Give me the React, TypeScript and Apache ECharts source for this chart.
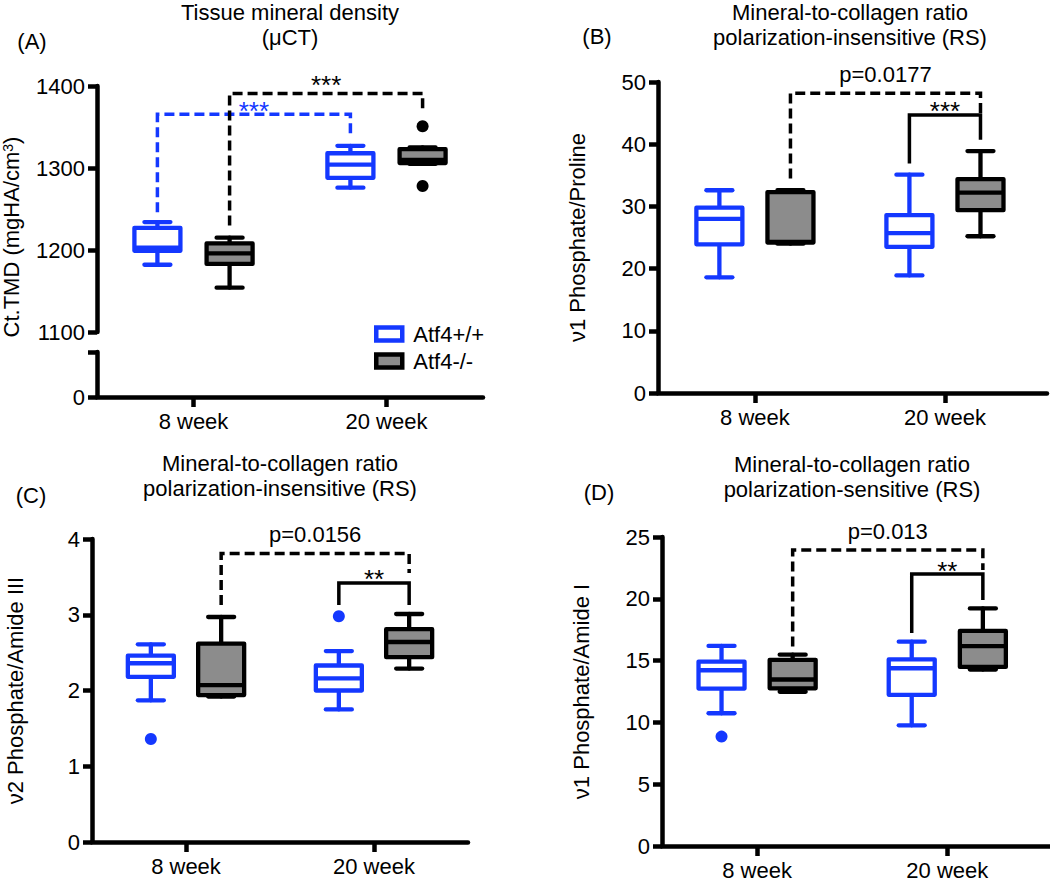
import React, { useEffect, useRef } from "react";
import * as echarts from "echarts";

const FONT = "'Liberation Sans', Arial, Helvetica, sans-serif";
const BLUE = "#1438ff";
const BLACK = "#000000";
const GRAY = "#8c8c8c";

const categories = ["8 week", "20 week"];
const groups = ["Atf4+/+", "Atf4-/-"];

// Box data: [min, Q1, median, Q3, max] per category (8 week, 20 week)
// (A) Tissue mineral density
const tmdWT = [
  [1182, 1199, 1203, 1227, 1234],
  [1276, 1288, 1304, 1318, 1327],
];
const tmdKO = [
  [1154, 1183, 1196, 1208, 1215],
  [1305, 1306, 1310, 1323, 1325],
];
const tmdOutliersKO = [
  [1, 1351],
  [1, 1278],
];

// (B) v1 Phosphate/Proline
const prolineWT = [
  [18.6, 23.9, 28.0, 29.8, 32.6],
  [18.9, 23.5, 25.7, 28.6, 35.1],
];
const prolineKO = [
  [24.0, 24.2, 24.3, 32.3, 32.6],
  [25.2, 29.4, 32.2, 34.4, 38.9],
];

// (C) v2 Phosphate/Amide III
const amide3WT = [
  [1.87, 2.18, 2.36, 2.46, 2.61],
  [1.75, 2.0, 2.16, 2.33, 2.52],
];
const amide3KO = [
  [1.92, 1.94, 2.07, 2.62, 2.97],
  [2.29, 2.44, 2.64, 2.81, 3.01],
];
const amide3OutliersWT = [
  [0, 1.36],
  [1, 2.98],
];

// (D) v1 Phosphate/Amide I
const amide1WT = [
  [10.74, 12.74, 14.22, 14.92, 16.19],
  [9.76, 12.23, 14.38, 15.1, 16.53],
];
const amide1KO = [
  [12.48, 12.76, 13.47, 15.06, 15.48],
  [14.27, 14.49, 16.17, 17.4, 19.22],
];
const amide1OutliersWT = [[0, 8.85]];

// Significance brackets: from/to = [category, group]
type Bracket = {
  from: number[];
  to: number[];
  y1: number;
  top: number;
  y2: number;
  dashed: boolean;
  text: string;
  color: string;
  lift: number;
};
const tmdBrackets: Bracket[] = [
  { from: [0, 0], to: [1, 0], y1: 1246, top: 1365.5, y2: 1340, dashed: true, text: "***", color: BLUE, lift: 3.5 },
  { from: [0, 1], to: [1, 1], y1: 1230, top: 1391, y2: 1367, dashed: true, text: "***", color: BLACK, lift: 8 },
];
const prolineBrackets: Bracket[] = [
  { from: [0, 1], to: [1, 1], y1: 34.5, top: 48.2, y2: 44.7, dashed: true, text: "p=0.0177", color: BLACK, lift: 18.5 },
  { from: [1, 0], to: [1, 1], y1: 36.9, top: 44.7, y2: 40.7, dashed: false, text: "***", color: BLACK, lift: 3.5 },
];
const amide3Brackets: Bracket[] = [
  { from: [0, 1], to: [1, 1], y1: 3.13, top: 3.81, y2: 3.55, dashed: true, text: "p=0.0156", color: BLACK, lift: 18.5 },
  { from: [1, 0], to: [1, 1], y1: 3.13, top: 3.42, y2: 3.13, dashed: false, text: "**", color: BLACK, lift: 4 },
];
const amide1Brackets: Bracket[] = [
  { from: [0, 1], to: [1, 1], y1: 16.15, top: 23.95, y2: 22.34, dashed: true, text: "p=0.013", color: BLACK, lift: 18 },
  { from: [1, 0], to: [1, 1], y1: 17.23, top: 22.0, y2: 19.9, dashed: false, text: "**", color: BLACK, lift: 3.5 },
];

const GROUP_OFFSET = [-0.187, 0.187];
const xOf = (cat: number, grp: number) => cat + GROUP_OFFSET[grp];

const LW = 4.3;
const AXIS_W = 4.5;
const HALF_BOX = 23;
const CAP = 13;

function boxSeries(name: string, data: number[][], grp: number, axis: number, color: string, fill: string) {
  return {
    type: "custom",
    name,
    xAxisIndex: axis,
    yAxisIndex: axis,
    clip: false,
    data: data.map((d, i) => [xOf(i, grp), ...d]),
    renderItem: (params: any, api: any) => {
      const x = api.value(0);
      const py = (k: number) => api.coord([x, api.value(k)]);
      const cx = py(1)[0];
      const yMin = py(1)[1];
      const yQ1 = py(2)[1];
      const yMed = py(3)[1];
      const yQ3 = py(4)[1];
      const yMax = py(5)[1];
      const ls = { stroke: color, lineWidth: LW, fill: "none", lineCap: "round" };
      return {
        type: "group",
        children: [
          { type: "line", shape: { x1: cx, y1: yMax, x2: cx, y2: yQ3 }, style: ls },
          { type: "line", shape: { x1: cx, y1: yQ1, x2: cx, y2: yMin }, style: ls },
          { type: "line", shape: { x1: cx - CAP, y1: yMax, x2: cx + CAP, y2: yMax }, style: ls },
          { type: "line", shape: { x1: cx - CAP, y1: yMin, x2: cx + CAP, y2: yMin }, style: ls },
          {
            type: "rect",
            shape: { x: cx - HALF_BOX, y: yQ3, width: HALF_BOX * 2, height: Math.max(yQ1 - yQ3, 0.5) },
            style: { fill, stroke: color, lineWidth: LW, lineJoin: "round" },
          },
          {
            type: "line",
            shape: { x1: cx - HALF_BOX, y1: yMed, x2: cx + HALF_BOX, y2: yMed },
            style: { stroke: color, lineWidth: LW },
          },
        ],
      };
    },
  };
}

function outlierSeries(name: string, data: number[][], grp: number, axis: number, color: string) {
  return {
    type: "scatter",
    name,
    xAxisIndex: axis,
    yAxisIndex: axis,
    symbol: "circle",
    symbolSize: 12,
    itemStyle: { color, borderWidth: 0, opacity: 1 },
    data: data.map((d) => [xOf(d[0], grp), d[1]]),
  };
}

function bracketSeries(brackets: Bracket[], axis: number) {
  return {
    type: "custom",
    name: "significance",
    xAxisIndex: axis,
    yAxisIndex: axis,
    clip: false,
    silent: true,
    data: brackets.map((b) => [xOf(b.from[0], b.from[1]), b.y1, b.top, xOf(b.to[0], b.to[1]), b.y2]),
    renderItem: (params: any, api: any) => {
      const b = brackets[params.dataIndex];
      const p1 = api.coord([api.value(0), api.value(1)]);
      const p1t = api.coord([api.value(0), api.value(2)]);
      const p2t = api.coord([api.value(3), api.value(2)]);
      const p2 = api.coord([api.value(3), api.value(4)]);
      const isStar = b.text.indexOf("*") === 0;
      return {
        type: "group",
        children: [
          {
            type: "polyline",
            shape: { points: [p1, p1t, p2t, p2] },
            style: {
              stroke: b.color,
              lineWidth: 3.5,
              fill: "none",
              lineDash: b.dashed ? [10, 5] : null,
            },
          },
          {
            type: "text",
            x: (p1t[0] + p2t[0]) / 2,
            y: p1t[1] - b.lift,
            style: {
              text: b.text,
              fill: b.color,
              fontSize: isStar ? 26 : 22,
              fontFamily: FONT,
              align: "center",
              verticalAlign: "middle",
            },
          },
        ],
      };
    },
  };
}

const labelStyle = { fontSize: 22, color: "#000", fontFamily: FONT };

function xAxis(gridIndex: number, min: number, max: number, show: boolean) {
  return {
    type: "value",
    gridIndex,
    min,
    max,
    show,
    axisLine: { show, onZero: false, lineStyle: { color: "#000", width: AXIS_W } },
    axisTick: {
      show,
      customValues: [0, 1],
      length: 10,
      lineStyle: { color: "#000", width: AXIS_W },
    },
    axisLabel: {
      show,
      customValues: [0, 1],
      formatter: (v: number) => categories[Math.round(v)],
      margin: 13,
      ...labelStyle,
    },
    splitLine: { show: false },
  };
}

function yAxis(gridIndex: number, min: number, max: number, interval: number, name: string, nameGap: number, formatter?: any) {
  return {
    type: "value",
    gridIndex,
    min,
    max,
    interval,
    name,
    nameLocation: "middle",
    nameGap,
    nameTextStyle: { ...labelStyle },
    axisLine: { show: true, onZero: false, lineStyle: { color: "#000", width: AXIS_W } },
    axisTick: { show: true, length: 9, lineStyle: { color: "#000", width: AXIS_W } },
    axisLabel: { margin: 12, ...labelStyle, formatter: formatter || ((v: number) => String(v)) },
    splitLine: { show: false },
  };
}

function titleText(x: number, y: number, text: string) {
  return {
    type: "text",
    x,
    y,
    silent: true,
    style: {
      text,
      fontSize: 22,
      lineHeight: 25,
      fontFamily: FONT,
      fill: "#000",
      align: "center",
      verticalAlign: "top",
    },
  };
}

function letterText(x: number, y: number, text: string) {
  return {
    type: "text",
    x,
    y,
    silent: true,
    style: { text, fontSize: 22, fontFamily: FONT, fill: "#000", align: "center", verticalAlign: "middle" },
  };
}

function buildOption() {
  return {
    animation: false,
    backgroundColor: "#ffffff",
    textStyle: { fontFamily: FONT },
    grid: [
      { left: 97, top: 86, width: 386, height: 246 },
      { left: 97, top: 352, width: 386, height: 45 },
      { left: 658, top: 82, width: 389, height: 311 },
      { left: 92, top: 539, width: 376, height: 303 },
      { left: 662, top: 537, width: 388, height: 310 },
    ],
    xAxis: [
      xAxis(0, -0.5, 1.5, false),
      xAxis(1, -0.5, 1.5, true),
      xAxis(2, -0.51, 1.537, true),
      xAxis(3, -0.5, 1.5, true),
      xAxis(4, -0.5, 1.54, true),
    ],
    yAxis: [
      yAxis(0, 1100, 1400, 100, "", 0),
      yAxis(1, 0, 1, 1, "", 0, (v: number) => (v === 0 ? "0" : "")),
      yAxis(2, 0, 50, 10, "ν1 Phosphate/Proline", 70),
      yAxis(3, 0, 4, 1, "ν2 Phosphate/Amide III", 66),
      yAxis(4, 0, 25, 5, "ν1 Phosphate/Amide I", 70),
    ],
    legend: {
      orient: "vertical",
      left: 374,
      top: 323,
      padding: 0,
      itemWidth: 26,
      itemHeight: 13,
      itemGap: 5,
      selectedMode: false,
      textStyle: { ...labelStyle, padding: [0, 0, 0, 6] },
      data: [
        { name: groups[0], icon: "rect", itemStyle: { color: "#ffffff", borderColor: BLUE, borderWidth: 4.5 } },
        { name: groups[1], icon: "rect", itemStyle: { color: GRAY, borderColor: BLACK, borderWidth: 4.5 } },
      ],
    },
    graphic: [
      titleText(290, 0, "Tissue mineral density\n(μCT)"),
      titleText(850, 0, "Mineral-to-collagen ratio\npolarization-insensitive (RS)"),
      titleText(280, 450.5, "Mineral-to-collagen ratio\npolarization-insensitive (RS)"),
      titleText(852, 452, "Mineral-to-collagen ratio\npolarization-sensitive (RS)"),
      letterText(32, 41, "(A)"),
      letterText(597, 36.5, "(B)"),
      letterText(31, 495, "(C)"),
      letterText(599, 492, "(D)"),
      {
        type: "text",
        x: 11.5,
        y: 237,
        rotation: Math.PI / 2,
        silent: true,
        style: {
          text: "Ct.TMD (mgHA/cm{sup|3})",
          fontSize: 22,
          fontFamily: FONT,
          fill: "#000",
          align: "center",
          verticalAlign: "middle",
          rich: {
            sup: { fontSize: 14, fontFamily: FONT, fill: "#000", verticalAlign: "top", lineHeight: 22 },
          },
        },
      },
    ],
    series: [
      // (A)
      boxSeries(groups[0], tmdWT, 0, 0, BLUE, "#ffffff"),
      boxSeries(groups[1], tmdKO, 1, 0, BLACK, GRAY),
      outlierSeries(groups[1], tmdOutliersKO, 1, 0, BLACK),
      bracketSeries(tmdBrackets, 0),
      // (B)
      boxSeries(groups[0], prolineWT, 0, 2, BLUE, "#ffffff"),
      boxSeries(groups[1], prolineKO, 1, 2, BLACK, GRAY),
      bracketSeries(prolineBrackets, 2),
      // (C)
      boxSeries(groups[0], amide3WT, 0, 3, BLUE, "#ffffff"),
      boxSeries(groups[1], amide3KO, 1, 3, BLACK, GRAY),
      outlierSeries(groups[0], amide3OutliersWT, 0, 3, BLUE),
      bracketSeries(amide3Brackets, 3),
      // (D)
      boxSeries(groups[0], amide1WT, 0, 4, BLUE, "#ffffff"),
      boxSeries(groups[1], amide1KO, 1, 4, BLACK, GRAY),
      outlierSeries(groups[0], amide1OutliersWT, 0, 4, BLUE),
      bracketSeries(amide1Brackets, 4),
    ],
  };
}

export default function App() {
  const ref = useRef<HTMLDivElement>(null);
  useEffect(() => {
    if (!ref.current) return;
    const chart = echarts.init(ref.current, null, { renderer: "svg" });
    chart.setOption(buildOption() as any);
    return () => chart.dispose();
  }, []);
  return (
    <div
      ref={ref}
      style={{ position: "absolute", left: 0, top: 0, width: 1050, height: 881, background: "#fff" }}
    />
  );
}
